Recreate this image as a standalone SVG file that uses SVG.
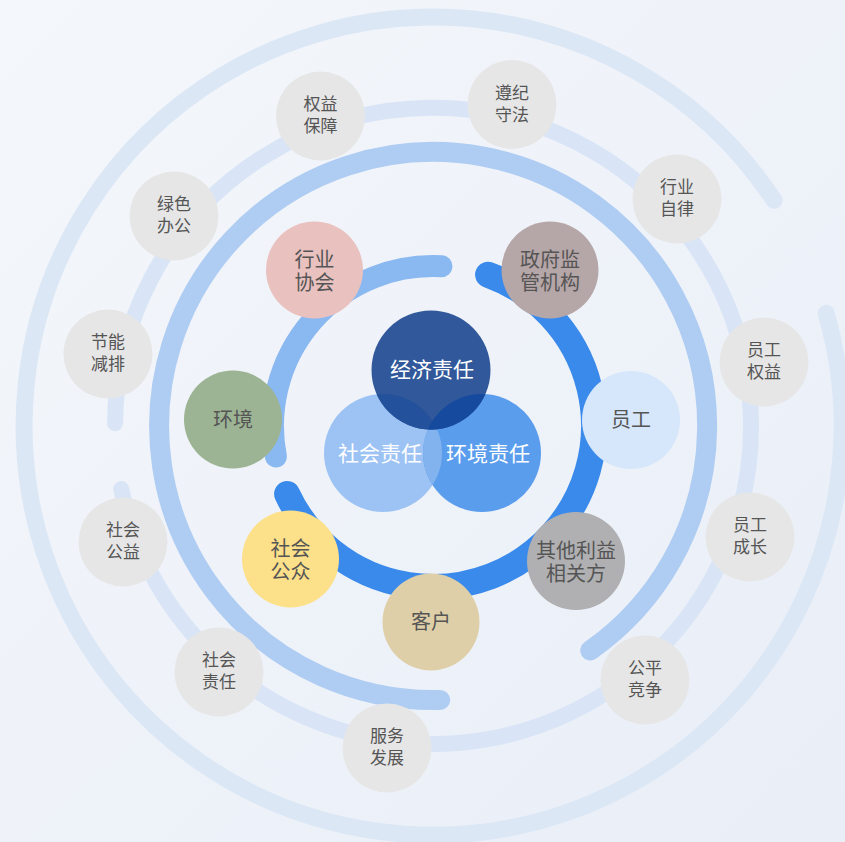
<svg xmlns="http://www.w3.org/2000/svg" width="845" height="842" viewBox="0 0 845 842">
<defs>
<linearGradient id="bg" x1="0" y1="0" x2="1" y2="1">
<stop offset="0" stop-color="#f4f7fb"/>
<stop offset="1" stop-color="#e9eef7"/>
</linearGradient>
<clipPath id="cJ"><circle cx="431" cy="370" r="59.5"/></clipPath>
<clipPath id="cH"><circle cx="482" cy="453" r="59"/></clipPath>
</defs>
<style>
.ring{fill:none;stroke-linecap:round}
.g{fill:#e6e6e6}
.gt{font-family:"Noto Sans CJK SC","Noto Sans",sans-serif;font-size:17px;fill:#555;text-anchor:middle}
.ct{font-family:"Noto Sans CJK SC","Noto Sans",sans-serif;font-size:20px;fill:#555;text-anchor:middle}
.vt{font-family:"Noto Sans CJK SC","Noto Sans",sans-serif;font-size:21px;fill:#fff;text-anchor:middle}
</style>
<rect width="845" height="842" fill="url(#bg)"/>
<g id="connectors">
<path class="ring" d="M826.2,313.3 A409,409 0 1 1 774.1,200.3" stroke="#dce7f6" stroke-width="17"/>
<path class="ring" d="M115,423.2 A318,318 0 1 1 121.3,488.9" stroke="#d9e5f6" stroke-width="16"/>
<path class="ring" d="M440.2,699.9 A274,274 0 1 1 590.2,650.5" stroke="#afcdf3" stroke-width="20"/>
<path class="ring" d="M441.4,266.2 A160,160 0 0 0 275.9,456.5" stroke="#8ab8f1" stroke-width="22"/>
<path class="ring" d="M488.1,274.7 A161,161 0 1 1 287.1,494" stroke="#3a8aeb" stroke-width="26"/>
</g>
<g id="venn">
<g id="n-social"><circle cx="383" cy="453" r="59" fill="#9dc3f5"/></g>
<g id="n-env"><circle cx="482" cy="453" r="59" fill="#5b9ded"/></g>
<circle cx="383" cy="453" r="59" fill="#82b3ef" clip-path="url(#cH)"/>
<g id="n-econ"><circle cx="431" cy="370" r="59.5" fill="#30589a"/></g>
<circle cx="383" cy="453" r="59" fill="#24519c" clip-path="url(#cJ)"/>
<circle cx="482" cy="453" r="59" fill="#164a9e" clip-path="url(#cJ)"/>
<text class="vt" x="432" y="377">经济责任</text>
<text class="vt" x="380" y="461">社会责任</text>
<text class="vt" x="488" y="461">环境责任</text>
</g>
<g id="n-hyxh"><circle cx="314.5" cy="270" r="48.5" fill="#e9c1bf"/><text class="ct" x="314.5" y="267">行业<tspan x="314.5" dy="23">协会</tspan></text></g>
<g id="n-zfjg"><circle cx="550" cy="270" r="48.5" fill="#b5a6a8"/><text class="ct" x="550" y="267">政府监<tspan x="550" dy="23">管机构</tspan></text></g>
<g id="n-hj"><circle cx="233" cy="419.5" r="49" fill="#9cb494"/><text class="ct" x="233" y="426.5">环境</text></g>
<g id="n-yg"><circle cx="631" cy="420" r="49" fill="#d6e6fb"/><text class="ct" x="631" y="427">员工</text></g>
<g id="n-shgz"><circle cx="290.5" cy="559" r="48.5" fill="#fde08a"/><text class="ct" x="290.5" y="556">社会<tspan x="290.5" dy="23">公众</tspan></text></g>
<g id="n-kh"><circle cx="431" cy="622" r="48.5" fill="#dfcfa8"/><text class="ct" x="431" y="629">客户</text></g>
<g id="n-qt"><circle cx="576" cy="561" r="49" fill="#b0b0b2"/><text class="ct" x="576" y="558">其他利益<tspan x="576" dy="23">相关方</tspan></text></g>
<g id="n-qybz"><circle class="g" cx="320.5" cy="116" r="44.5"/><text class="gt" x="320.5" y="110">权益<tspan x="320.5" dy="22">保障</tspan></text></g>
<g id="n-zjsf"><circle class="g" cx="512" cy="104.5" r="44.5"/><text class="gt" x="512" y="98.5">遵纪<tspan x="512" dy="22">守法</tspan></text></g>
<g id="n-hyzl"><circle class="g" cx="677" cy="199" r="44.5"/><text class="gt" x="677" y="193">行业<tspan x="677" dy="22">自律</tspan></text></g>
<g id="n-lsbg"><circle class="g" cx="174" cy="216" r="44.5"/><text class="gt" x="174" y="210">绿色<tspan x="174" dy="22">办公</tspan></text></g>
<g id="n-jnjp"><circle class="g" cx="108" cy="354" r="44.5"/><text class="gt" x="108" y="348">节能<tspan x="108" dy="22">减排</tspan></text></g>
<g id="n-ygqy"><circle class="g" cx="764" cy="362" r="44.5"/><text class="gt" x="764" y="356">员工<tspan x="764" dy="22">权益</tspan></text></g>
<g id="n-ygcz"><circle class="g" cx="750" cy="537" r="44.5"/><text class="gt" x="750" y="531">员工<tspan x="750" dy="22">成长</tspan></text></g>
<g id="n-shgy"><circle class="g" cx="123" cy="542" r="44.5"/><text class="gt" x="123" y="536">社会<tspan x="123" dy="22">公益</tspan></text></g>
<g id="n-shzr"><circle class="g" cx="219" cy="672" r="44.5"/><text class="gt" x="219" y="666">社会<tspan x="219" dy="22">责任</tspan></text></g>
<g id="n-fwfz"><circle class="g" cx="387" cy="748" r="44.5"/><text class="gt" x="387" y="742">服务<tspan x="387" dy="22">发展</tspan></text></g>
<g id="n-gpjz"><circle class="g" cx="645" cy="680" r="44.5"/><text class="gt" x="645" y="674">公平<tspan x="645" dy="22">竞争</tspan></text></g>
</svg>
